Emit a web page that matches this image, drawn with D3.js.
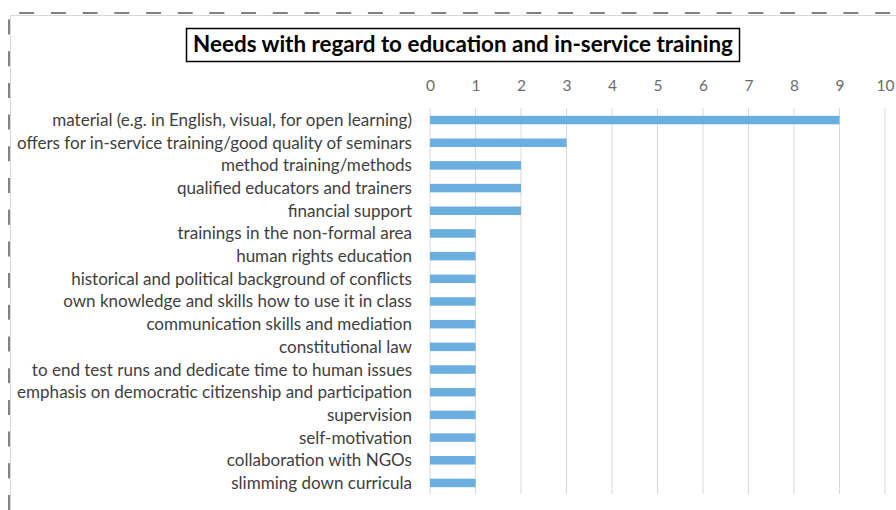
<!DOCTYPE html>
<html>
<head>
<meta charset="utf-8">
<script src="https://cdn.jsdelivr.net/npm/d3@7"></script>
<style>
  html, body { margin: 0; padding: 0; background: #fff; }
  svg { display: block; }
</style>
</head>
<body>
<svg id="chart" width="896" height="510"></svg>
<script>
const categories = [
  "material (e.g. in English, visual, for open learning)",
  "offers for in-service training/good quality of seminars",
  "method training/methods",
  "qualified educators and trainers",
  "financial support",
  "trainings in the non-formal area",
  "human rights education",
  "historical and political background of conflicts",
  "own knowledge and skills how to use it in class",
  "communication skills and mediation",
  "constitutional law",
  "to end test runs and dedicate time to human issues",
  "emphasis on democratic citizenship and participation",
  "supervision",
  "self-motivation",
  "collaboration with NGOs",
  "slimming down curricula"
];
const values = [9, 3, 2, 2, 2, 1, 1, 1, 1, 1, 1, 1, 1, 1, 1, 1, 1];
const tickValues = [0, 1, 2, 3, 4, 5, 6, 7, 8, 9, 10];
const title = "Needs with regard to education and in-service training";

const FONT = "Lato, 'Open Sans', 'Liberation Sans', sans-serif";
const svg = d3.select("#chart");

// chart area (light border)
svg.append("rect").attr("x", 10.5).attr("y", 15.5).attr("width", 900).attr("height", 510)
  .attr("fill", "#fff").attr("stroke", "#d9d9d9").attr("stroke-width", 1);

// dashed outer selection frame
svg.append("path")
  .attr("d", "M9,510 L9,13 L896,13")
  .attr("fill", "none").attr("stroke", "#595959").attr("stroke-width", 1.5)
  .attr("stroke-dasharray", "15 16.7");

const x = d3.scaleLinear().domain([0, 10]).range([430, 885]);
const y = d3.scaleBand().domain(categories).range([108.7, 494.3]).padding(0);

// gridlines
svg.append("g").selectAll("line").data(tickValues).join("line")
  .attr("x1", d => x(d)).attr("x2", d => x(d))
  .attr("y1", 108).attr("y2", 494)
  .attr("stroke", "#d9d9d9").attr("stroke-width", 1);

// top axis via d3
const axis = d3.axisTop(x).tickValues(tickValues).tickSize(0).tickPadding(0).tickFormat(d3.format("d"));
const gAxis = svg.append("g").attr("transform", "translate(0,91)").call(axis);
gAxis.select(".domain").remove();
gAxis.selectAll("text").attr("font-family", FONT).attr("font-size", 15.5)
  .attr("fill", "#6b6b6b").attr("dy", 0);

// bars
const barH = 8.5;
svg.append("g").selectAll("rect").data(values).join("rect")
  .attr("x", x(0))
  .attr("y", (d, i) => y(categories[i]) + y.bandwidth() / 2 - barH / 2)
  .attr("width", d => x(d) - x(0))
  .attr("height", barH)
  .attr("fill", "#6baee0");

// category labels
const labels = svg.append("g").selectAll("text").data(categories).join("text")
  .attr("x", 412)
  .attr("y", d => y(d) + y.bandwidth() / 2)
  .attr("dy", "0.35em")
  .attr("text-anchor", "end")
  .attr("font-family", FONT)
  .attr("font-size", 15)
  .attr("fill", "#404040")
  .text(d => d);
// fit longest label width to ~360px
const w0 = labels.nodes()[0].getComputedTextLength();
const fs = 15 * 360 / w0;
labels.attr("font-size", fs);

// title
const tg = svg.append("g");
const tt = tg.append("text").attr("x", 463).attr("y", 52)
  .attr("text-anchor", "middle").attr("font-family", FONT)
  .attr("font-weight", "bold").attr("font-size", 19).attr("fill", "#000")
  .text(title);
const tw = tt.node().getComputedTextLength();
tt.attr("font-size", 19 * 540 / tw);
tg.insert("rect", "text").attr("x", 186.5).attr("y", 28.5).attr("width", 553).attr("height", 33)
  .attr("fill", "#fff").attr("stroke", "#000").attr("stroke-width", 1.5);
</script>
</body>
</html>
